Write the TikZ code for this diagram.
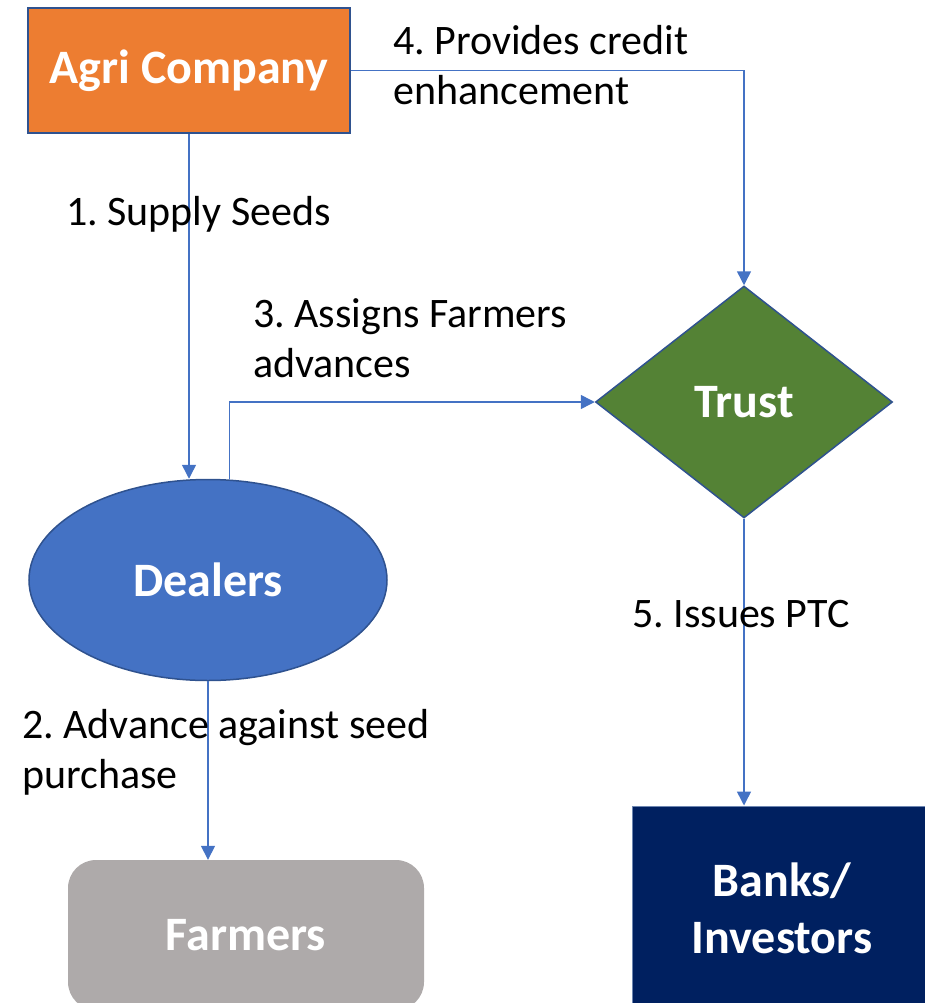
\documentclass[tikz,border=0pt]{standalone}
\usepackage{fontspec}
\setmainfont{Carlito}
\usepackage{tikz}
\usetikzlibrary{shapes.geometric, arrows.meta, positioning}
\definecolor{agriorange}{HTML}{ED7D31}
\definecolor{trustgreen}{HTML}{548235}
\definecolor{dealerblue}{HTML}{4472C4}
\definecolor{farmgray}{HTML}{AEAAAA}
\definecolor{banknavy}{HTML}{002060}
\definecolor{edgeblue}{HTML}{2F528F}
\definecolor{linkblue}{HTML}{4472C4}
\frenchspacing
\tikzstyle{arrow} = [draw=linkblue, line width=1.5pt, -{Triangle[length=14pt,width=14pt]}]
\tikzstyle{entity} = [text=white, font=\fontsize{48}{57}\selectfont\bfseries, align=center, inner sep=0pt]
\tikzstyle{lbl} = [text=black, font=\fontsize{42}{50}\selectfont, align=left, inner sep=0pt]

\begin{document}
\begin{tikzpicture}[x=1pt, y=-1pt]
  \clip (0,0) rectangle (925,1003);

  % Parties
  \node[entity, rectangle, draw=edgeblue, line width=2pt, fill=agriorange,
        minimum width=322pt, minimum height=125pt] (agri) at (189,70.5) {Agri Company};
  \node[entity, diamond, draw=edgeblue, line width=1.5pt, fill=trustgreen,
        minimum width=297pt, minimum height=232pt] (trust) at (744,402) {Trust};
  \node[entity, ellipse, draw=edgeblue, line width=1.5pt, fill=dealerblue,
        minimum width=358pt, minimum height=201pt] (dealers) at (208,580) {Dealers};
  \node[entity, rectangle, rounded corners=28pt, fill=farmgray,
        minimum width=356pt, minimum height=150pt] (farmers) at (246,935) {Farmers};
  \node[entity, rectangle, draw=edgeblue!70, line width=1pt, fill=banknavy,
        minimum width=300pt, minimum height=204pt] (banks) at (782,908) {Banks/\\Investors};

  % Flows
  \draw[arrow] (agri.south) -- (agri.south |- dealers.north);
  \draw[arrow] (dealers.south) -- (dealers.south |- farmers.north);
  \draw[arrow] (dealers.78) |- (trust.west);
  \draw[arrow] (agri.east) -| (trust.north);
  \draw[arrow] (trust.south) -- (trust.south |- banks.north);

  % Flow labels (base = last line)
  \node[lbl, anchor=base west] (lbl1) at (66,225) {1. Supply Seeds};
  \node[lbl, anchor=base west] (lbl2) at (22,788) {2. Advance against seed\\purchase};
  \node[lbl, anchor=base west] (lbl3) at (253,377) {3. Assigns Farmers\\advances};
  \node[lbl, anchor=base west] (lbl4) at (393,105) {4. Provides credit\\enhancement};
  \node[lbl, anchor=base west] (lbl5) at (632,627) {5. Issues PTC};
\end{tikzpicture}
\end{document}
